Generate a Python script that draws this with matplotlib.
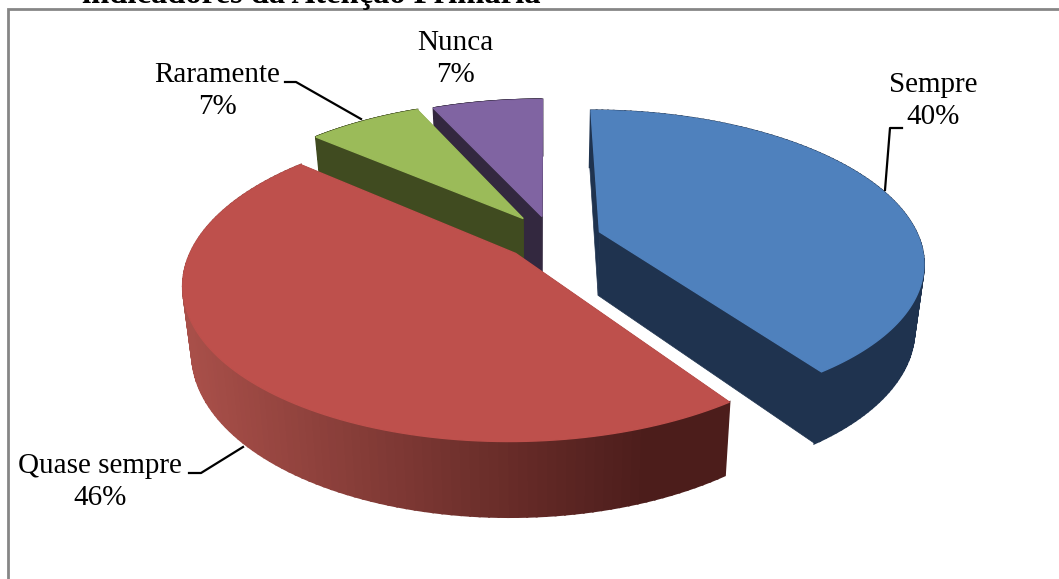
import numpy as np
import matplotlib
matplotlib.use('Agg')
import matplotlib.pyplot as plt

categories = ['Sempre', 'Quase sempre', 'Raramente', 'Nunca']
values = [40.4, 46.0, 6.9, 6.7]

title = 'indicadores da Atenção Primária'

# colours per slice: top face, side (light end), side (dark end)
top_colors = ['#4F81BD', '#BE504C', '#9BBB59', '#8064A2']
side_light = ['#1F334F', '#A84F49', '#404B20', '#33283F']
side_dark = ['#1F334F', '#4C1D1B', '#404B20', '#33283F']
radial_colors = ['#1F334F', '#4C1D1B', '#404B20', '#33283F']

# how far each slice is pulled out, in pie radii
explode_x = [0.172, -0.09, -0.07, -0.01]
explode_y = [0.056, -0.09, 0.15, 0.165]

# projection of the tilted pie onto the picture
CX, CY = 545, 240
RX, RY = 320, 147
PERSPECTIVE = 0.188
DEPTH = 64
BOTTOM_SHRINK = 0.025

label_centers = [(933, 101), (100, 482), (217, 91), (455, 59)]
leaders = [
    [(902, 128), (890, 128), (885, 190)],
    [(189, 473), (201, 473), (243, 447)],
    [(285, 82), (296, 82), (361, 119)],
]


def project(x, y, z=0.0):
    w = 1 / (1 + PERSPECTIVE * y)
    s = 1 - BOTTOM_SHRINK * z
    return CX + RX * x * w * s, CY - RY * y * w * s + DEPTH * z * w


def mix(c1, c2, t):
    a = np.array(matplotlib.colors.to_rgb(c1))
    b = np.array(matplotlib.colors.to_rgb(c2))
    return tuple(a + (b - a) * t)


fig = plt.figure(figsize=(10.59, 5.79), dpi=100)
ax = fig.add_axes([0, 0, 1, 1])
ax.set_xlim(0, 1059)
ax.set_ylim(579, 0)
ax.axis('off')

ax.plot([8, 8, 1059], [579, 9, 9], color='#868686', lw=2, solid_joinstyle='miter')

ax.text(82, 3, title, family='Liberation Serif', weight='bold', fontsize=23.5,
        ha='left', va='baseline', color='black')

# slice angles clockwise from the top
edges = np.concatenate([[0], np.cumsum(values)]) / sum(values) * 2 * np.pi

# back slices first so the big red one covers them
for i in [3, 2, 0, 1]:
    theta = np.linspace(edges[i], edges[i + 1], 120)
    ox, oy = explode_x[i], explode_y[i]
    xs = ox + np.sin(theta)
    ys = oy + np.cos(theta)

    # flat cut faces
    for k in [-1, 0]:
        p = [project(ox, oy), project(xs[k], ys[k]), project(xs[k], ys[k], 1), project(ox, oy, 1)]
        ax.fill(*zip(*p), color=radial_colors[i], lw=0.5)

    # outer rounded side, shaded by screen position
    for j in range(len(theta) - 1):
        p = [project(xs[j], ys[j]), project(xs[j + 1], ys[j + 1]),
             project(xs[j + 1], ys[j + 1], 1), project(xs[j], ys[j], 1)]
        t = np.clip((p[0][0] - 190) / 460, 0, 1)
        ax.fill(*zip(*p), color=mix(side_light[i], side_dark[i], t), lw=1.5)

    # top face
    top = [project(ox, oy)] + [project(a, b) for a, b in zip(xs, ys)]
    ax.fill(*zip(*top), color=top_colors[i], lw=1)

for line in leaders:
    ax.plot(*zip(*line), color='black', lw=1.6)

for name, val, pos in zip(categories, values, label_centers):
    ax.text(pos[0], pos[1], f'{name}\n{val:.0f}%', family='Liberation Serif', fontsize=21,
            ha='center', va='center', linespacing=1.26, color='black')

fig.savefig('out.png', dpi=100)
